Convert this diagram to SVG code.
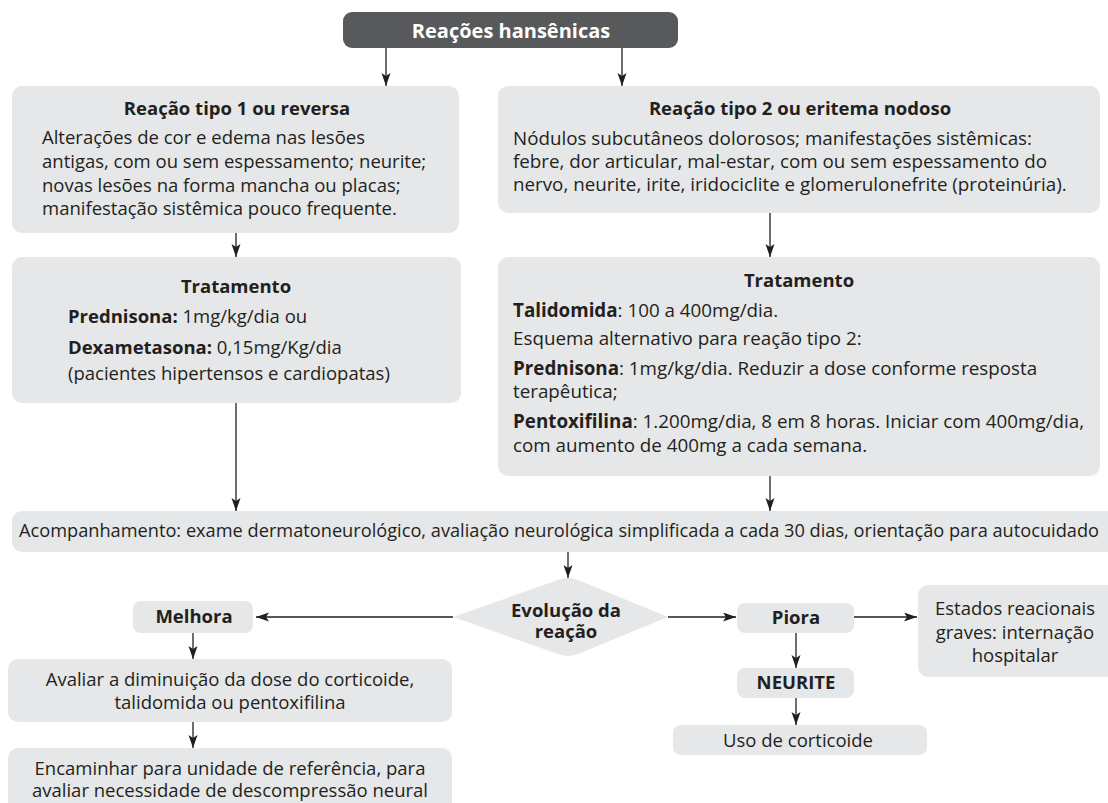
<svg xmlns="http://www.w3.org/2000/svg" width="1108" height="803" viewBox="0 0 1108 803">
  <defs>
    <marker id="arrow" markerUnits="userSpaceOnUse" markerWidth="14" markerHeight="10" refX="13" refY="4.5" orient="auto">
      <path d="M0,0 L13,4.5 L0,9 L3,4.5 z" fill="#231f20"/>
    </marker>
  </defs>
  <style>
    .box { fill: #e6e7e8; }
    .head { fill: #58595b; }
    text { font-family: "Open Sans", "Noto Sans", "Liberation Sans", sans-serif; fill: #231f20; font-size: 18.5px; }
    .r { font-size: 18.8px; }
    .b { font-weight: bold; }
    .t { font-weight: bold; font-size: 18.5px; }
    .c { text-anchor: middle; }
    .w { fill: #ffffff; font-weight: bold; font-size: 20px; }
    .edge { stroke: #231f20; stroke-width: 1.3; fill: none; marker-end: url(#arrow); }
  </style>
  <rect width="1108" height="803" fill="#ffffff"/>

  <!-- connectors -->
  <g id="connectors">
    <line class="edge" x1="386" y1="48" x2="386" y2="86"/>
    <line class="edge" x1="622" y1="48" x2="622" y2="86"/>
    <line class="edge" x1="236" y1="233" x2="236" y2="257"/>
    <line class="edge" x1="770" y1="213" x2="770" y2="257"/>
    <line class="edge" x1="236" y1="403" x2="236" y2="511"/>
    <line class="edge" x1="770" y1="476" x2="770" y2="511"/>
    <line class="edge" x1="568" y1="552" x2="568" y2="578"/>
    <line class="edge" x1="453" y1="617" x2="256" y2="617"/>
    <line class="edge" x1="668" y1="617" x2="736" y2="617"/>
    <line class="edge" x1="854" y1="617" x2="917" y2="617"/>
    <line class="edge" x1="796" y1="633" x2="796" y2="668"/>
    <line class="edge" x1="796" y1="698" x2="796" y2="725"/>
    <line class="edge" x1="193" y1="633" x2="193" y2="659"/>
    <line class="edge" x1="193" y1="722" x2="193" y2="748"/>
  </g>

  <!-- title -->
  <g id="reacoes">
    <rect class="head" x="343" y="12" width="335" height="36" rx="9"/>
    <text class="w c" x="511" y="38">Reações hansênicas</text>
  </g>

  <!-- type 1 reaction -->
  <g id="tipo1">
    <rect class="box" x="12" y="86" width="447" height="147" rx="10"/>
    <text class="t c" x="237" y="115">Reação tipo 1 ou reversa</text>
    <text x="42" y="144">Alterações de cor e edema nas lesões</text>
    <text x="42" y="168">antigas, com ou sem espessamento; neurite;</text>
    <text x="42" y="192">novas lesões na forma mancha ou placas;</text>
    <text x="42" y="215">manifestação sistêmica pouco frequente.</text>
  </g>

  <!-- type 2 reaction -->
  <g id="tipo2">
    <rect class="box" x="498" y="86" width="602" height="127" rx="10"/>
    <text class="t c" x="800" y="115">Reação tipo 2 ou eritema nodoso</text>
    <text class="r" x="513" y="145">Nódulos subcutâneos dolorosos; manifestações sistêmicas:</text>
    <text class="r" x="513" y="168">febre, dor articular, mal-estar, com ou sem espessamento do</text>
    <text class="r" x="513" y="191">nervo, neurite, irite, iridociclite e glomerulonefrite (proteinúria).</text>
  </g>

  <!-- type 1 treatment -->
  <g id="tratamento1">
    <rect class="box" x="12" y="257" width="449" height="146" rx="10"/>
    <text class="t c" x="236" y="293">Tratamento</text>
    <text x="68" y="323"><tspan class="b">Prednisona:</tspan> 1mg/kg/dia ou</text>
    <text x="68" y="354"><tspan class="b">Dexametasona:</tspan> 0,15mg/Kg/dia</text>
    <text x="68" y="380">(pacientes hipertensos e cardiopatas)</text>
  </g>

  <!-- type 2 treatment -->
  <g id="tratamento2">
    <rect class="box" x="498" y="257" width="602" height="219" rx="10"/>
    <text class="t c" x="799" y="287">Tratamento</text>
    <text class="r" x="513" y="317"><tspan class="b">Talidomida</tspan>: 100 a 400mg/dia.</text>
    <text class="r" x="513" y="345">Esquema alternativo para reação tipo 2:</text>
    <text class="r" x="513" y="375"><tspan class="b">Prednisona</tspan>: 1mg/kg/dia. Reduzir a dose conforme resposta</text>
    <text class="r" x="513" y="398">terapêutica;</text>
    <text class="r" x="513" y="428"><tspan class="b">Pentoxifilina</tspan>: 1.200mg/dia, 8 em 8 horas. Iniciar com 400mg/dia,</text>
    <text class="r" x="513" y="452">com aumento de 400mg a cada semana.</text>
  </g>

  <!-- follow-up -->
  <g id="acompanhamento">
    <rect class="box" x="12" y="511" width="1110" height="41" rx="10"/>
    <text x="19" y="537" font-size="18" textLength="1080" lengthAdjust="spacingAndGlyphs">Acompanhamento: exame dermatoneurológico, avaliação neurológica simplificada a cada 30 dias, orientação para autocuidado</text>
  </g>

  <!-- decision -->
  <g id="evolucao">
    <path class="box" d="M453,617 L558,580 Q568,576 578,580 L668,617 L578,654 Q568,658 558,654 Z"/>
    <text class="t c" x="566" y="617" font-size="17.5">Evolução da</text>
    <text class="t c" x="566" y="638" font-size="17.5">reação</text>
  </g>

  <g id="melhora">
    <rect class="box" x="133" y="601" width="120" height="32" rx="8"/>
    <text class="t c" x="194" y="623">Melhora</text>
  </g>

  <g id="avaliar">
    <rect class="box" x="8" y="659" width="444" height="63" rx="10"/>
    <text class="c" x="230" y="686">Avaliar a diminuição da dose do corticoide,</text>
    <text class="c" x="230" y="709">talidomida ou pentoxifilina</text>
  </g>

  <g id="encaminhar">
    <rect class="box" x="8" y="748" width="444" height="70" rx="10"/>
    <text class="c" x="230" y="775">Encaminhar para unidade de referência, para</text>
    <text class="c" x="230" y="797">avaliar necessidade de descompressão neural</text>
  </g>

  <g id="piora">
    <rect class="box" x="737" y="603" width="117" height="30" rx="8"/>
    <text class="t c" x="796" y="624">Piora</text>
  </g>

  <g id="estados">
    <rect class="box" x="918" y="585" width="205" height="92" rx="10"/>
    <text class="c" x="1015" y="615">Estados reacionais</text>
    <text class="c" x="1015" y="639">graves: internação</text>
    <text class="c" x="1015" y="662">hospitalar</text>
  </g>

  <g id="neurite">
    <rect class="box" x="737" y="668" width="117" height="30" rx="8"/>
    <text class="t c" x="796" y="689">NEURITE</text>
  </g>

  <g id="corticoide">
    <rect class="box" x="673" y="725" width="254" height="30" rx="8"/>
    <text class="c" x="798" y="747">Uso de corticoide</text>
  </g>
</svg>
